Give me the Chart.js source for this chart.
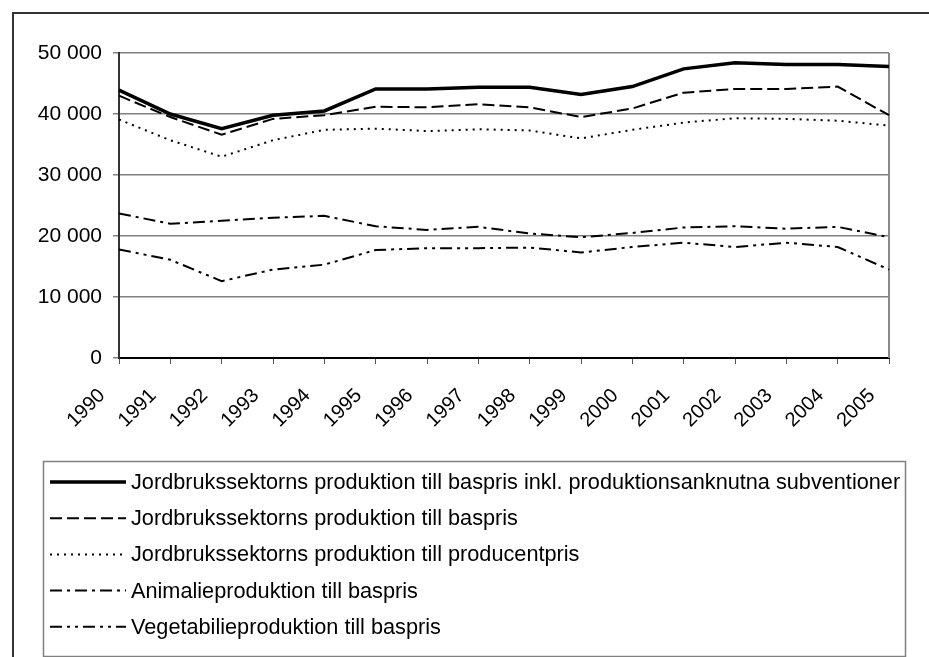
<!DOCTYPE html>
<html>
<head>
<meta charset="utf-8">
<script src="https://cdn.jsdelivr.net/npm/chart.js@4"></script>
<style>
  html, body { margin: 0; padding: 0; background: #fff; }
  #wrap { width: 929px; height: 657px; position: relative; }
</style>
</head>
<body>
<div id="wrap"><canvas id="grafico" width="929" height="657"></canvas></div>
<script>
const years = ['1990','1991','1992','1993','1994','1995','1996','1997','1998','1999','2000','2001','2002','2003','2004','2005'];

const serieNamn = [
  'Jordbrukssektorns produktion till baspris inkl. produktionsanknutna subventioner',
  'Jordbrukssektorns produktion till baspris',
  'Jordbrukssektorns produktion till producentpris',
  'Animalieproduktion till baspris',
  'Vegetabilieproduktion till baspris'
];

const inklSubventioner = [43900, 40000, 37600, 39800, 40500, 44100, 44100, 44400, 44400, 43200, 44500, 47400, 48400, 48100, 48100, 47800];
const baspris = [43000, 39500, 36600, 39200, 39800, 41200, 41100, 41600, 41100, 39500, 40900, 43500, 44100, 44100, 44500, 39800];
const producentpris = [39100, 35700, 33000, 35700, 37400, 37600, 37200, 37500, 37300, 36000, 37400, 38600, 39300, 39200, 38900, 38100];
const animalie = [23700, 22000, 22500, 23000, 23300, 21600, 21000, 21500, 20400, 19800, 20500, 21400, 21600, 21200, 21500, 19800];
const vegetabilie = [17800, 16100, 12600, 14500, 15300, 17700, 18000, 18000, 18100, 17300, 18200, 18900, 18200, 18900, 18200, 14500];

const yTicks = [0, 10000, 20000, 30000, 40000, 50000];

const typsnitt = '"Liberation Sans", Arial, sans-serif';

// strecktyper som i Excel
const streck = [[], [12, 5], [2, 5], [12, 5, 3, 5], [12, 5, 3, 5, 3, 5]];
const bredd = [3.5, 2, 2, 2, 2];
const serier = [inklSubventioner, baspris, producentpris, animalie, vegetabilie];

function formatera(v) {
  return String(v).replace(/\B(?=(\d{3})+(?!\d))/g, ' ');
}

// ram runt hela diagrammet, ram runt ritytan och förklaringen
const ramPlugin = {
  id: 'ramar',
  beforeDatasetsDraw(chart) {
    const ctx = chart.ctx;
    const a = chart.chartArea;
    ctx.save();
    ctx.strokeStyle = '#8a8a8a';
    ctx.lineWidth = 2;
    ctx.beginPath();
    ctx.moveTo(a.right, a.top);
    ctx.lineTo(a.right, a.bottom);
    ctx.stroke();
    ctx.restore();
  },
  afterDraw(chart) {
    const ctx = chart.ctx;
    ctx.save();
    ctx.strokeStyle = '#333';
    ctx.lineWidth = 2;
    ctx.strokeRect(13, 13, chart.width + 20, chart.height + 20);

    // förklaring
    const lx = 43.5, ly = 461.5, lw = 862, lh = 195;
    ctx.strokeStyle = '#808080';
    ctx.lineWidth = 1.5;
    ctx.strokeRect(lx, ly, lw, lh);
    ctx.font = '21.7px ' + typsnitt;
    ctx.fillStyle = '#000';
    ctx.textBaseline = 'middle';
    ctx.textAlign = 'left';
    serieNamn.forEach((namn, i) => {
      const y = 482 + i * 36.2;
      ctx.beginPath();
      ctx.setLineDash(streck[i]);
      ctx.lineWidth = bredd[i];
      ctx.strokeStyle = '#000';
      ctx.moveTo(50, y);
      ctx.lineTo(126, y);
      ctx.stroke();
      ctx.setLineDash([]);
      ctx.fillText(namn, 131, y + 1);
    });
    ctx.restore();
  }
};

const ctx = document.getElementById('grafico').getContext('2d');

new Chart(ctx, {
  type: 'line',
  data: {
    labels: years,
    datasets: serier.map((data, i) => ({
      label: serieNamn[i],
      data: data,
      borderColor: '#000',
      borderWidth: bredd[i],
      borderDash: streck[i],
      pointRadius: 0,
      tension: 0,
      fill: false
    }))
  },
  options: {
    responsive: false,
    animation: false,
    layout: { padding: { left: 0, top: 53, right: 40, bottom: 199 } },
    plugins: {
      legend: { display: false },
      tooltip: { enabled: false }
    },
    scales: {
      x: {
        offset: false,
        afterFit(scale) { scale.height = 100; },
        grid: { drawOnChartArea: false, drawTicks: true, tickLength: 6, color: '#555' },
        border: { color: '#000', width: 2 },
        ticks: {
          color: '#000',
          font: { family: typsnitt, size: 20 },
          maxRotation: 45,
          minRotation: 45,
          autoSkip: false,
          padding: 20,
          labelOffset: -17
        }
      },
      y: {
        min: 0,
        max: 50000,
        afterFit(scale) { scale.width = 119; },
        afterBuildTicks(scale) { scale.ticks = yTicks.map(v => ({ value: v })); },
        grid: { color: '#808080', lineWidth: 1.5, tickLength: 6 },
        border: { color: '#333', width: 2 },
        ticks: {
          color: '#000',
          font: { family: typsnitt, size: 21 },
          padding: 11,
          callback: (v) => formatera(v)
        }
      }
    }
  },
  plugins: [ramPlugin]
});
</script>
</body>
</html>
